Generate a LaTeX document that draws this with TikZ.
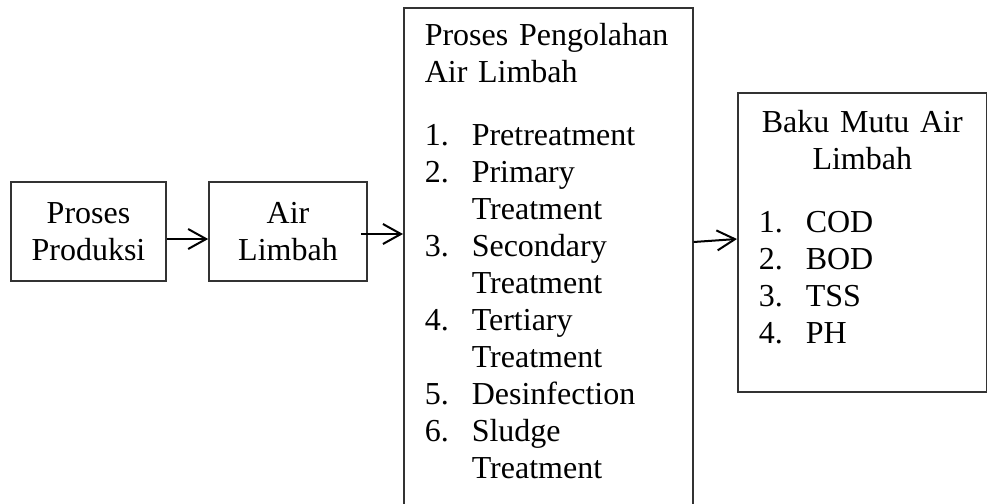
\documentclass[tikz,border=0pt]{standalone}
\usepackage{fontspec}
\setmainfont{Liberation Serif}
\usetikzlibrary{positioning}
\usetikzlibrary{arrows.meta}

\newcommand{\numitem}[2]{\makebox[23.5pt][l]{#1}#2}
\newcommand{\contline}{\hspace*{23.5pt}}

\begin{document}
\begin{tikzpicture}[x=0.5pt, y=-0.5pt,
    box/.style={draw=black!80, line width=0.8pt, font=\fontsize{16pt}{18.5pt}\selectfont},
    arr/.style={line width=1pt, -{Straight Barb[length=9pt, width=10pt]}}]
    \useasboundingbox (0,0) rectangle (987,504);
    \node[box, align=center, minimum width=77.5pt, minimum height=49.5pt] (prod) at (88.5,231.5) {Proses\\Produksi};
    \node[box, align=center, minimum width=79pt, minimum height=49.5pt] (limbah) at (288,231.5) {Air\\Limbah};
    \node[box, anchor=north west, align=left, text width=123.5pt, inner xsep=10.5pt, inner ysep=0pt,
        text height=19pt, text depth=260pt] (olah) at (403,7) {%
        Proses Pengolahan\\Air Limbah\\[13pt]
        \numitem{1.}{Pretreatment}\\
        \numitem{2.}{Primary}\\ \contline Treatment\\
        \numitem{3.}{Secondary}\\ \contline Treatment\\
        \numitem{4.}{Tertiary}\\ \contline Treatment\\
        \numitem{5.}{Desinfection}\\
        \numitem{6.}{Sludge}\\ \contline Treatment};
    \node[box, anchor=north west, align=left, text width=103.5pt, inner xsep=10.5pt, inner ysep=0pt,
        text height=20pt, text depth=129.5pt] (baku) at (737,92) {%
        \makebox[103.5pt]{Baku Mutu Air}\\ \makebox[103.5pt]{Limbah}\\[13pt]
        \numitem{1.}{COD}\\
        \numitem{2.}{BOD}\\
        \numitem{3.}{TSS}\\
        \numitem{4.}{PH}};
    \coordinate (a2) at ([yshift=-1.25pt]limbah.east);
    \coordinate (a3) at ([yshift=-117.5pt]olah.north east);
    \draw[arr] ([yshift=-3.75pt]prod.east) -- ([yshift=-3.75pt]limbah.west);
    \draw[arr] ([xshift=-3.5pt]a2) -- (a2 -| olah.west);
    \draw[arr] (a3) -- ([yshift=-73.5pt]baku.north west);
\end{tikzpicture}
\end{document}
